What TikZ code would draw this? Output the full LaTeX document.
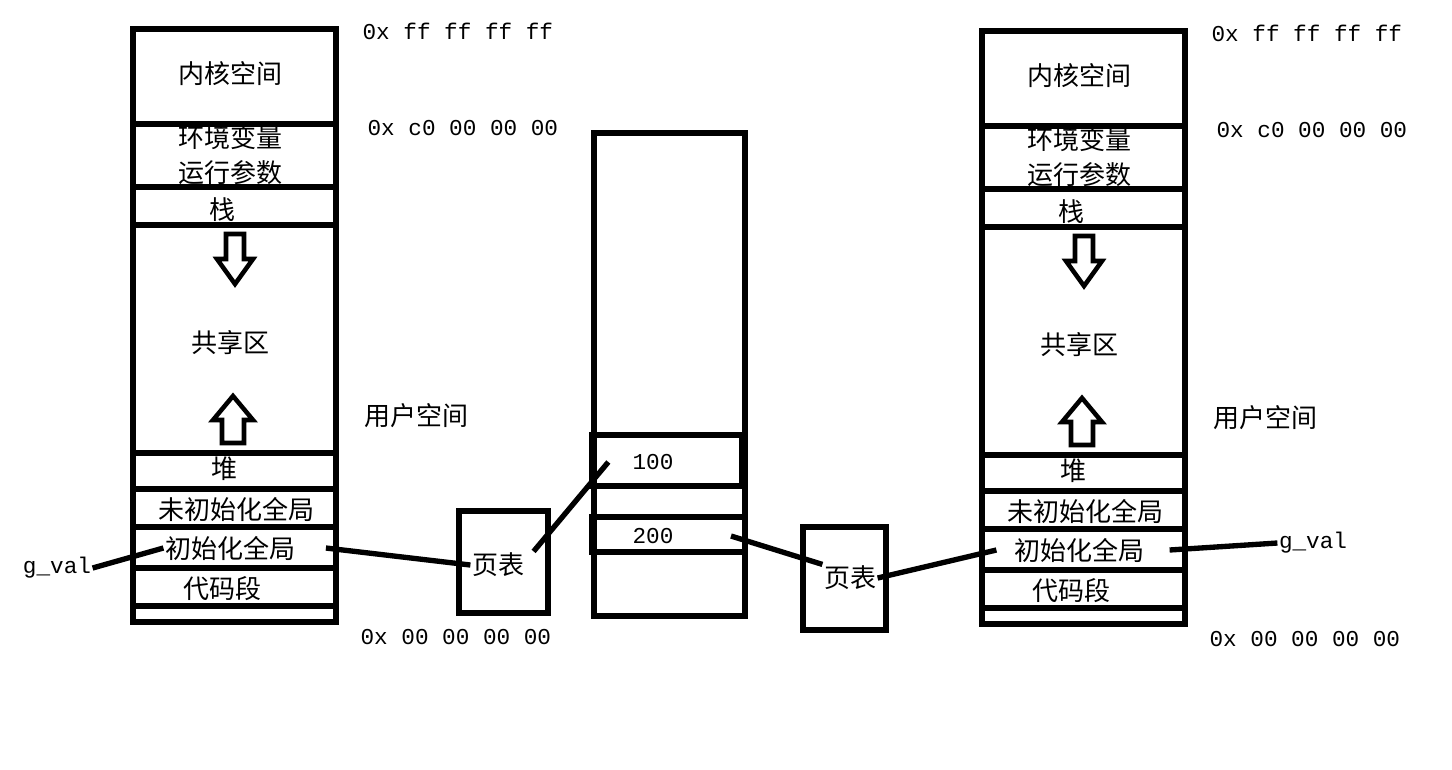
\documentclass[tikz,border=0pt]{standalone}
\usepackage{fontspec}
\setmainfont{Liberation Mono}
\newfontfamily\cjk{Noto Sans CJK SC}
\usetikzlibrary{calc}

\tikzset{
  wall/.style={line width=4pt},
  link/.style={line width=4pt},
  fatarrow/.style={line width=3.4pt, line join=miter},
  zh/.style={font=\cjk\fontsize{19.5}{22}\selectfont, inner sep=1pt},
  hex/.style={font=\fontsize{17}{20}\selectfont, inner sep=1pt, anchor=west},
}

% one address space column, drawn at the left position
\newcommand{\memcol}{%
  \draw[wall] (133,29) rectangle (336,622);
  \foreach \yy in {124,187,225,453,489,527,568,606}
    \draw[wall] (133,\yy) -- (336,\yy);
  \node[zh] (kern) at (230,74) {内核空间};
  \node[zh] (env) at (230,138) {环境变量};
  \node[zh] (args) at (230,173) {运行参数};
  \node[zh] (stack) at (222,210) {栈};
  \node[zh] (shared) at (230,343) {共享区};
  \node[zh] (heap) at (224,469) {堆};
  \node[zh] (bss) at (236,509) {未初始化全局};
  \node[zh] (data) at (230,548) {初始化全局};
  \node[zh] (code) at (222,589) {代码段};
  % stack grows down, heap grows up
  \draw[fatarrow] (226,234) -- (244,234) -- (244,259) -- (253,259) -- (235,284)
    -- (217,259) -- (226,259) -- cycle;
  \draw[fatarrow] (222,443) -- (244,443) -- (244,420) -- (253,420) -- (233,396)
    -- (213,420) -- (222,420) -- cycle;
  \node[hex] (atop) at (361,31) {0x ff ff ff ff};
  \node[hex] (akern) at (366,128) {0x c0 00 00 00};
  \node[zh, anchor=west] (user) at (363,416) {用户空间};
  \node[hex] (abot) at (359,637) {0x 00 00 00 00};
}

\begin{document}
\begin{tikzpicture}[x=0.75pt, y=-0.75pt]
  \useasboundingbox (0,0) rectangle (1452,769);

  \begin{scope}[name prefix=L-]
    \memcol
  \end{scope}
  \begin{scope}[shift={(849,2)}, name prefix=R-]
    \memcol
  \end{scope}

  % physical memory
  \draw[wall] (594,133) rectangle (745,616);
  \draw[wall] (592,435) rectangle (742,486);
  \draw[wall] (592,517) rectangle (745,552);
  \node[hex, anchor=center] (v100) at (653,462) {100};
  \node[hex, anchor=center] (v200) at (653,536) {200};

  % page tables
  \draw[wall] (459,511) rectangle (548,613);
  \node[zh] (pt1) at (498,565) {页表};
  \draw[wall] (803,527) rectangle (886,630);
  \node[zh] (pt2) at (850,578) {页表};

  \node[hex, anchor=center] (gL) at (57,568) {g\_val};
  \node[hex, anchor=center] (gR) at (1313,543) {g\_val};

  \draw[link] (gL.east) -- (L-data.west);
  \draw[link] ([xshift=22pt]L-data.east) -- (pt1.west);
  \draw[link] ([xshift=6pt]pt1.north east) -- ([xshift=-17pt]v100.west);
  \draw[link] ([xshift=42pt]v200.east) -- (pt2.north west);
  \draw[link] (pt2.east) -- ([xshift=-12pt]R-data.west);
  \draw[link] ([xshift=18pt]R-data.east) -- (gR.west);
\end{tikzpicture}
\end{document}
